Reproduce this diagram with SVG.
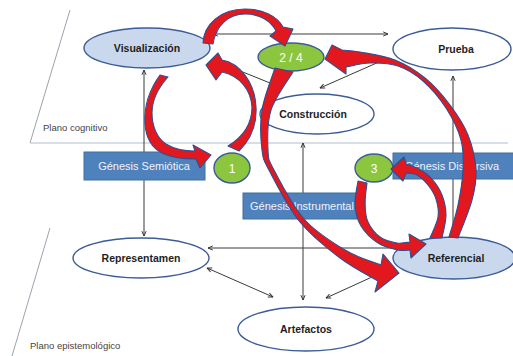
<svg xmlns="http://www.w3.org/2000/svg" width="513" height="356" viewBox="0 0 513 356">
  <defs>
    <style>
      .ln { stroke: #3a3a3a; stroke-width: 1; fill: none; }
      .plane { stroke: #9aa3ae; stroke-width: 1; fill: none; }
      .red { fill: #e3181e; stroke: #2f4f8f; stroke-width: 1.1; stroke-linejoin: round; }
      .ell { stroke: #3c5c98; stroke-width: 1.4; }
      .white { fill: #ffffff; }
      .lightblue { fill: #c9d8ec; }
      .green { fill: #8cc63f; }
      .box { fill: #4f81bd; stroke: #41719c; stroke-width: 1; }
      .lbl { font-family: "Liberation Sans", Arial, sans-serif; font-weight: bold; font-size: 10.5px; fill: #1e1e1e; text-anchor: middle; }
      .gtxt { font-family: "Liberation Sans", Arial, sans-serif; font-size: 11px; fill: #eef2fa; text-anchor: middle; }
      .num { font-family: "Liberation Sans", Arial, sans-serif; font-size: 12px; fill: #ffffff; text-anchor: middle; }
      .ptxt { font-family: "Liberation Sans", Arial, sans-serif; font-size: 9.5px; fill: #444444; }
    </style>
    <marker id="ah" viewBox="0 0 10 10" refX="9" refY="5" markerWidth="6" markerHeight="6" orient="auto-start-reverse">
      <path d="M1,1.5 L9,5 L1,8.5" fill="none" stroke="#333" stroke-width="1.6"/>
    </marker>
  </defs>

  <rect width="513" height="356" fill="#ffffff"/>

  <!-- planes -->
  <g id="planes">
    <line class="plane" x1="70" y1="10" x2="30" y2="143"/>
    <line x1="30" y1="143" x2="508" y2="143" stroke="#aebdd0" stroke-width="1"/>
    <text class="ptxt" x="43" y="131">Plano cognitivo</text>
    <line class="plane" x1="50" y1="228" x2="12" y2="356"/>
    <text class="ptxt" x="30" y="349">Plano epistemológico</text>
  </g>

  <!-- thin connectors -->
  <g id="connectors">
    <line class="ln" x1="388" y1="34" x2="213" y2="34" marker-start="url(#ah)" marker-end="url(#ah)"/>
    <line class="ln" x1="144" y1="70" x2="144" y2="236" marker-start="url(#ah)" marker-end="url(#ah)"/>
    <line class="ln" x1="303" y1="143" x2="303" y2="300" marker-start="url(#ah)" marker-end="url(#ah)"/>
    <line class="ln" x1="453" y1="237" x2="453" y2="76" marker-end="url(#ah)"/>
    <line class="ln" x1="400" y1="248" x2="208" y2="248" marker-end="url(#ah)"/>
    <line class="ln" x1="207" y1="268" x2="273" y2="297" marker-start="url(#ah)" marker-end="url(#ah)"/>
    <line class="ln" x1="372" y1="277" x2="326" y2="298" marker-end="url(#ah)"/>
    <line class="ln" x1="388" y1="58" x2="320" y2="88" marker-end="url(#ah)"/>
    <line class="ln" x1="270" y1="83" x2="213" y2="60" marker-end="url(#ah)"/>
  </g>

  <!-- cognitive plane nodes -->
  <g id="visualizacion">
    <ellipse class="ell lightblue" cx="147" cy="48" rx="63" ry="20"/>
    <text class="lbl" x="147" y="52">Visualización</text>
  </g>
  <g id="prueba">
    <ellipse class="ell white" cx="452" cy="49" rx="59" ry="21"/>
    <text class="lbl" x="456" y="53">Prueba</text>
  </g>
  <g id="construccion">
    <ellipse class="ell white" cx="317" cy="114" rx="57" ry="20"/>
    <text class="lbl" x="313" y="118">Construcción</text>
  </g>

  <!-- genesis boxes -->
  <g id="genesis-semiotica">
    <rect class="box" x="84" y="152" width="121" height="28"/>
    <text class="gtxt" x="144" y="170">Génesis Semiótica</text>
  </g>
  <g id="genesis-instrumental">
    <rect class="box" x="243" y="193" width="122" height="26"/>
    <text class="gtxt" x="250" y="210" style="text-anchor:start">Génesis Instrumental</text>
  </g>
  <g id="genesis-discursiva">
    <rect class="box" x="393" y="153" width="122" height="26"/>
    <text class="gtxt" x="452" y="170">Génesis Discursiva</text>
  </g>

  <!-- epistemological plane nodes -->
  <g id="representamen">
    <ellipse class="ell white" cx="141" cy="258" rx="68" ry="20"/>
    <text class="lbl" x="141" y="262">Representamen</text>
  </g>
  <g id="referencial">
    <ellipse class="ell lightblue" cx="454" cy="258" rx="61" ry="21"/>
    <text class="lbl" x="456" y="262">Referencial</text>
  </g>
  <g id="artefactos">
    <ellipse class="ell white" cx="306" cy="329" rx="68" ry="22"/>
    <text class="lbl" x="306" y="333">Artefactos</text>
  </g>

  <!-- numbered stages -->
  <g id="stage-24">
    <ellipse class="ell green" cx="291" cy="57" rx="33" ry="14"/>
    <text class="num" x="291" y="61.5">2 / 4</text>
  </g>
  <g id="stage-1">
    <ellipse class="ell green" cx="232" cy="168" rx="18" ry="15"/>
    <text class="num" x="232" y="172.5">1</text>
  </g>
  <g id="stage-3">
    <ellipse class="ell green" cx="374" cy="168" rx="19" ry="14"/>
    <text class="num" x="374" y="172.5">3</text>
  </g>

  <!-- red cycle arrows -->
  <g id="cycle-arrows">
    <!-- Visualización to 2/4, over the top -->
    <path class="red" d="M203,43 C204,24 221,9 245,9 C263,9 277,16 283,27 L293,29 L285,46 L270,36 L276,31 C271,21 260,14 245,14 C229,14 216,25 213,44 Z"/>
    <!-- Visualización to 1, left half of the loop -->
    <path class="red" d="M160,75 C149,90 144,108 145,124 C146,138 152,148 162,153 C172,158 184,159 196,159 L200,168 L211,155 L193,145 L195,151 C184,151 174,149 166,144 C157,138 152,126 152,113 C152,99 159,87 168,77 Z"/>
    <!-- 1 to Visualización, right half of the loop -->
    <path class="red" d="M206,65 L218,53 L222,60 C240,63 255,83 256,107 C257,124 251,139 239,151 L228,146 C246,135 252,121 252,107 C251,90 240,76 222,72 L216,80 Z"/>
    <!-- 2/4 down to Referencial -->
    <path class="red" d="M275,68 C272.8,75 264.2,96.3 262,110 C259.8,123.7 260.7,139.7 262,150 C263.3,160.3 263.7,160 270,172 C276.3,184 288.3,207.7 300,222 C311.7,236.3 327,248.2 340,258 C353,267.8 371.7,277.2 378,281 L375,292 L399,273 L383,254 L381,265 C375,262.5 357.8,257.7 345,250 C332.2,242.3 315.8,232.3 304,219 C292.2,205.7 280,181.5 274,170 C268,158.5 268.5,160 268,150 C267.5,140 266.8,123 271,110 C275.2,97 289.3,78.3 293,72 Z"/>
    <!-- Referencial up to 2/4 -->
    <path class="red" d="M458,238 C460.3,231.7 469,211.3 472,200 C475,188.7 476.7,180.8 476,170 C475.3,159.2 472.3,145.8 468,135 C463.7,124.2 457.2,114.5 450,105 C442.8,95.5 434.2,85.5 425,78 C415.8,70.5 405.8,64.3 395,60 C384.2,55.7 368.8,53.7 360,52 C351.2,50.3 345,50.3 342,50 L332,45 L325,59 L346,74 L346,67 C350,66.3 361.3,63.2 370,63 C378.7,62.8 389.2,63 398,66 C406.8,69 415,74 423,81 C431,88 439.7,98.2 446,108 C452.3,117.8 458.2,129.7 461,140 C463.8,150.3 463.5,159.2 463,170 C462.5,180.8 460.3,193.8 458,205 C455.7,216.2 450.5,231.7 449,237 Z"/>
    <!-- 3 to Referencial, left half of the small loop -->
    <path class="red" d="M358,181 C357.5,185 354.5,197.5 355,205 C355.5,212.5 357.2,219.7 361,226 C364.8,232.3 371.8,239 378,243 C384.2,247 392.7,248.8 398,250 C403.3,251.2 408,250 410,250 L411,258 L426,244 L409,234 L410,242 C407.8,242.2 402,243.8 397,243 C392,242.2 384.8,240.5 380,237 C375.2,233.5 370.5,227.5 368,222 C365.5,216.5 365.2,210.5 365,204 C364.8,197.5 366.7,186.5 367,183 Z"/>
    <!-- Referencial to 3, right half of the small loop -->
    <path class="red" d="M442,238 C442.7,234.2 446,222.2 446,215 C446,207.8 444.3,201 442,195 C439.7,189 435.8,183.3 432,179 C428.2,174.7 423.3,171.5 419,169 C414.7,166.5 408.2,164.8 406,164 L404,157 L391,169 L403,181 L406,173 C407.8,173.3 413.3,173 417,175 C420.7,177 424.8,181 428,185 C431.2,189 434.3,193.7 436,199 C437.7,204.3 439,210.5 438,217 C437,223.5 431.3,234.5 430,238 Z"/>
  </g>
</svg>
